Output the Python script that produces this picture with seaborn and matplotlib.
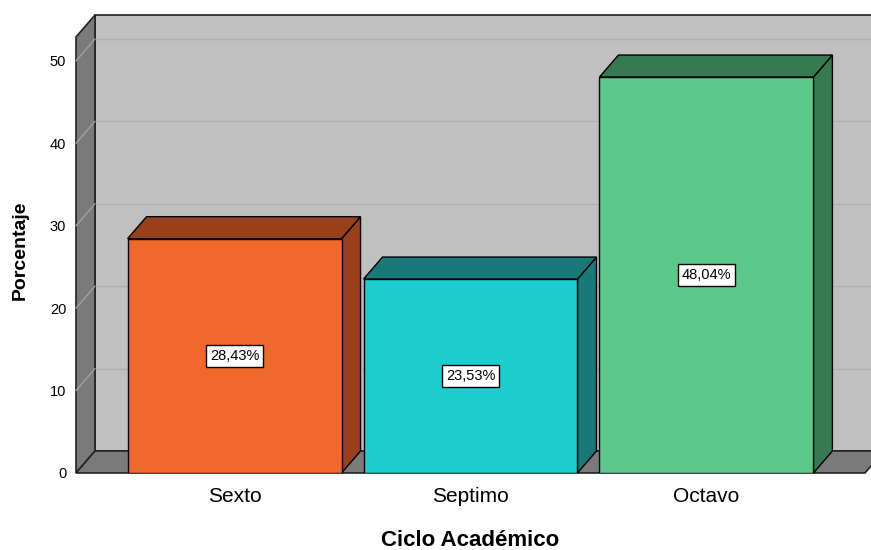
import matplotlib
matplotlib.use("Agg")
import matplotlib.pyplot as plt
from matplotlib.patches import Polygon
import seaborn as sns
import pandas as pd

# data
categories = ["Sexto", "Septimo", "Octavo"]
percentages = [28.43, 23.53, 48.04]
labels = ["28,43%", "23,53%", "48,04%"]
front_colors = ["#F0682B", "#1DCECE", "#5CC98B"]
side_colors = ["#99401B", "#1A7878", "#377A51"]
yticks = [0, 10, 20, 30, 40, 50]

df = pd.DataFrame({"ciclo": categories, "pct": percentages})

sns.set_theme(style="white")
plt.rcParams["font.family"] = ["Liberation Sans", "DejaVu Sans"]
plt.rcParams["text.color"] = "black"
plt.rcParams["axes.labelcolor"] = "black"
plt.rcParams["xtick.color"] = "black"
plt.rcParams["ytick.color"] = "black"

fig = plt.figure(figsize=(8.71, 5.5), dpi=100)
ax = fig.add_axes([76 / 871, 77 / 550, 789 / 871, 436 / 550])

XMIN, XMAX = -0.672, 2.672
YMAX = 52.9
# depth offset of the 3D box (in data units)
DX = 19 / 236
DY = 22 / 8.24

wall_gray = "#C0C0C0"
side_gray = "#7A7A7A"
grid_gray = "#B0B0B0"

# back wall
ax.add_patch(Polygon([(XMIN + DX, DY), (XMAX + DX, DY), (XMAX + DX, YMAX + DY), (XMIN + DX, YMAX + DY)],
                     closed=True, facecolor=wall_gray, edgecolor="#222222", lw=1.2, zorder=0, clip_on=False))
# left wall
ax.add_patch(Polygon([(XMIN, 0), (XMIN + DX, DY), (XMIN + DX, YMAX + DY), (XMIN, YMAX)],
                     closed=True, facecolor=side_gray, edgecolor="#222222", lw=1.2, zorder=0.5, clip_on=False))
# floor
ax.add_patch(Polygon([(XMIN, 0), (XMAX, 0), (XMAX + DX, DY), (XMIN + DX, DY)],
                     closed=True, facecolor=side_gray, edgecolor="#222222", lw=1.2, zorder=0.5, clip_on=False))

# gridlines on back and left walls
for v in yticks[1:]:
    ax.plot([XMIN + DX, XMAX + DX], [v + DY, v + DY], color=grid_gray, lw=1, zorder=0.2, clip_on=False)
    ax.plot([XMIN, XMIN + DX], [v, v + DY], color="#A0A0A0", lw=1, zorder=0.6, clip_on=False)

# front faces
sns.barplot(data=df, x="ciclo", y="pct", hue="ciclo", palette=front_colors, legend=False,
            width=214 / 236, edgecolor="black", linewidth=1, saturation=1, ax=ax, zorder=2)

bars = [b for c in ax.containers for b in c]
bars.sort(key=lambda b: b.get_x())

# sides, tops and value labels
for i, bar in enumerate(bars):
    x0 = bar.get_x()
    w = bar.get_width()
    h = bar.get_height()
    x1 = x0 + w
    ax.add_patch(Polygon([(x1, 0), (x1 + DX, DY), (x1 + DX, h + DY), (x1, h)], closed=True,
                         facecolor=side_colors[i], edgecolor="black", lw=1, zorder=1.9, clip_on=False))
    ax.add_patch(Polygon([(x0, h), (x0 + DX, h + DY), (x1 + DX, h + DY), (x1, h)], closed=True,
                         facecolor=side_colors[i], edgecolor="black", lw=1, zorder=1.9, clip_on=False))
    ax.text(x0 + w / 2, h / 2, labels[i], ha="center", va="center", fontsize=10.5, zorder=5,
            bbox=dict(boxstyle="square,pad=0.28", facecolor="white", edgecolor="black", lw=1))

ax.set_xlim(XMIN, XMAX)
ax.set_ylim(0, YMAX)
ax.set_yticks(yticks)
ax.set_yticklabels([str(v) for v in yticks], fontsize=10.5)
ax.tick_params(axis="y", length=0, pad=7)
ax.tick_params(axis="x", length=0, pad=10, labelsize=15)
for s in ax.spines.values():
    s.set_visible(False)
ax.patch.set_alpha(0)
ax.set_xlabel("Ciclo Académico", fontsize=16, fontweight="bold", labelpad=17)
ax.set_ylabel("Porcentaje", fontsize=14, fontweight="bold")
ax.yaxis.set_label_coords(-0.06, 0.51)

fig.savefig("out.png", dpi=100)
